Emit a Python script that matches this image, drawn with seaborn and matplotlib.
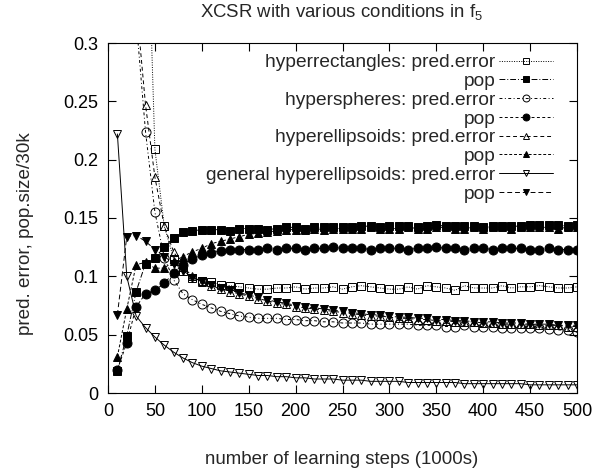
import matplotlib
matplotlib.use("Agg")
import matplotlib.pyplot as plt
import numpy as np
import pandas as pd
import seaborn as sns

# learning steps (1000s)
steps = list(range(10, 501, 10))

rect_err = [1.20, 0.90, 0.65, 0.47, 0.209, 0.143, 0.115, 0.105, 0.099, 0.096,
            0.095, 0.093, 0.092, 0.091, 0.090, 0.089, 0.089, 0.090, 0.090, 0.091,
            0.089, 0.090, 0.090, 0.091, 0.089, 0.091, 0.092, 0.091, 0.090, 0.089,
            0.089, 0.091, 0.089, 0.092, 0.091, 0.090, 0.088, 0.092, 0.090, 0.090,
            0.090, 0.092, 0.090, 0.091, 0.091, 0.092, 0.091, 0.090, 0.090, 0.091]
rect_pop = [0.019, 0.049, 0.087, 0.111, 0.116, 0.125, 0.133, 0.138, 0.139, 0.140,
            0.140, 0.140, 0.139, 0.141, 0.141, 0.141, 0.140, 0.141, 0.142, 0.142,
            0.141, 0.142, 0.142, 0.142, 0.142, 0.142, 0.143, 0.143, 0.142, 0.143,
            0.143, 0.143, 0.142, 0.143, 0.144, 0.143, 0.143, 0.143, 0.143, 0.142,
            0.143, 0.143, 0.143, 0.143, 0.144, 0.144, 0.144, 0.144, 0.143, 0.144]
sph_err = [0.75, 0.52, 0.32, 0.224, 0.155, 0.116, 0.097, 0.085, 0.080, 0.076,
           0.073, 0.070, 0.068, 0.066, 0.065, 0.064, 0.064, 0.064, 0.063, 0.063,
           0.062, 0.062, 0.061, 0.061, 0.060, 0.060, 0.060, 0.059, 0.059, 0.059,
           0.059, 0.059, 0.058, 0.058, 0.058, 0.057, 0.057, 0.058, 0.057, 0.057,
           0.057, 0.056, 0.056, 0.056, 0.056, 0.056, 0.055, 0.054, 0.054, 0.052]
sph_pop = [0.020, 0.043, 0.074, 0.085, 0.088, 0.094, 0.103, 0.110, 0.115, 0.118,
           0.120, 0.122, 0.123, 0.123, 0.123, 0.123, 0.124, 0.123, 0.124, 0.124,
           0.123, 0.124, 0.124, 0.125, 0.124, 0.124, 0.124, 0.123, 0.124, 0.124,
           0.124, 0.123, 0.124, 0.124, 0.125, 0.124, 0.124, 0.123, 0.124, 0.124,
           0.123, 0.124, 0.124, 0.124, 0.123, 0.123, 0.124, 0.123, 0.123, 0.123]
ell_err = [0.90, 0.62, 0.335, 0.247, 0.185, 0.143, 0.121, 0.108, 0.100, 0.095,
           0.092, 0.089, 0.087, 0.085, 0.083, 0.081, 0.079, 0.077, 0.076, 0.074,
           0.073, 0.072, 0.071, 0.070, 0.069, 0.068, 0.067, 0.066, 0.066, 0.065,
           0.064, 0.064, 0.063, 0.063, 0.062, 0.062, 0.061, 0.061, 0.061, 0.060,
           0.060, 0.059, 0.059, 0.059, 0.059, 0.058, 0.058, 0.058, 0.057, 0.057]
ell_pop = [0.031, 0.072, 0.110, 0.112, 0.107, 0.107, 0.113, 0.117, 0.121, 0.124,
           0.128, 0.130, 0.132, 0.134, 0.136, 0.137, 0.138, 0.139, 0.140, 0.140,
           0.140, 0.141, 0.140, 0.141, 0.141, 0.141, 0.141, 0.142, 0.141, 0.141,
           0.141, 0.142, 0.141, 0.141, 0.142, 0.142, 0.141, 0.141, 0.142, 0.141,
           0.142, 0.142, 0.141, 0.142, 0.142, 0.142, 0.142, 0.141, 0.142, 0.142]
gen_err = [0.222, 0.100, 0.066, 0.056, 0.048, 0.041, 0.035, 0.030, 0.026, 0.023,
           0.021, 0.019, 0.018, 0.017, 0.016, 0.015, 0.015, 0.014, 0.014, 0.013,
           0.013, 0.012, 0.012, 0.012, 0.011, 0.011, 0.011, 0.010, 0.010, 0.010,
           0.010, 0.009, 0.009, 0.009, 0.009, 0.009, 0.009, 0.008, 0.008, 0.008,
           0.008, 0.008, 0.008, 0.008, 0.007, 0.007, 0.007, 0.007, 0.007, 0.007]
gen_pop = [0.067, 0.134, 0.135, 0.130, 0.123, 0.117, 0.111, 0.105, 0.099, 0.096,
           0.093, 0.090, 0.088, 0.086, 0.084, 0.082, 0.080, 0.078, 0.077, 0.075,
           0.074, 0.073, 0.072, 0.071, 0.070, 0.069, 0.068, 0.067, 0.067, 0.066,
           0.065, 0.065, 0.064, 0.064, 0.063, 0.063, 0.062, 0.062, 0.061, 0.061,
           0.061, 0.060, 0.060, 0.060, 0.059, 0.059, 0.059, 0.058, 0.058, 0.058]

labels = ["hyperrectangles: pred.error", "pop",
          "hyperspheres: pred.error", "pop",
          "hyperellipsoids: pred.error", "pop",
          "general hyperellipsoids: pred.error", "pop"]
series = [rect_err, rect_pop, sph_err, sph_pop, ell_err, ell_pop, gen_err, gen_pop]

# style per series: marker, filled, dash pattern
styles = [
    ("s", False, (1, 1.5)),
    ("s", True, (6, 2, 1, 2)),
    ("o", False, (3, 2.5, 1, 2.5)),
    ("o", True, (3, 2.5)),
    ("^", False, (4, 3)),
    ("^", True, (3, 2)),
    ("v", False, None),
    ("v", True, (5, 3)),
]

sns.set_theme(style="ticks")
plt.rcParams["font.family"] = ["Liberation Sans", "DejaVu Sans"]
plt.rcParams["xtick.direction"] = "in"
plt.rcParams["ytick.direction"] = "in"

fig = plt.figure(figsize=(6.04, 4.72), dpi=100)
ax = fig.add_axes([108 / 604, 1 - 393 / 472, 469 / 604, 350 / 472])

for lab, vals, (mk, filled, dash) in zip(labels, series, styles):
    kw = dict(marker=mk, markersize=6 if mk != "o" else 6.5, markeredgewidth=0.7,
              markeredgecolor="black",
              markerfacecolor="black" if filled else "none")
    sns.lineplot(x=steps, y=vals, ax=ax, color="black", linewidth=0.7,
                 label=lab, **kw)
    ln = ax.get_lines()[-1]
    if dash is not None:
        ln.set_dashes(dash)
    else:
        ln.set_linestyle("-")

ax.set_xlim(0, 500)
ax.set_ylim(0, 0.3)
ax.set_xticks(np.arange(0, 501, 50))
ax.set_yticks(np.arange(0, 0.301, 0.05))
ax.set_yticklabels(["0", "0.05", "0.1", "0.15", "0.2", "0.25", "0.3"])
ax.tick_params(axis="both", which="both", labelsize=13, length=6, width=0.8,
               top=True, right=True, colors="black", pad=7)
for sp in ax.spines.values():
    sp.set_linewidth(0.8)
    sp.set_color("black")

fig.text(342 / 604, 1 - 13 / 472,
         r"XCSR with various conditions in f$_\mathregular{5}$",
         ha="center", va="center", fontsize=13.4)
fig.text(342 / 604, 1 - 460 / 472,
         "number of learning steps (1000s)", ha="center", va="center", fontsize=13.4)
fig.text(25 / 604, 1 - 234 / 472, "pred. error, pop.size/30k",
         ha="center", va="center", rotation=90, fontsize=13.6)
ax.set_xlabel("")
ax.set_ylabel("")

leg = ax.legend(loc="upper right", bbox_to_anchor=(1 - 24 / 469, 1 - 11 / 350),
                frameon=False, markerfirst=False, fontsize=13.8, handlelength=2.8,
                handletextpad=0.2, labelspacing=0.07, borderaxespad=0, borderpad=0)
for h in leg.legend_handles:
    h.set_markersize(5)

fig.savefig("out.png", dpi=100)
